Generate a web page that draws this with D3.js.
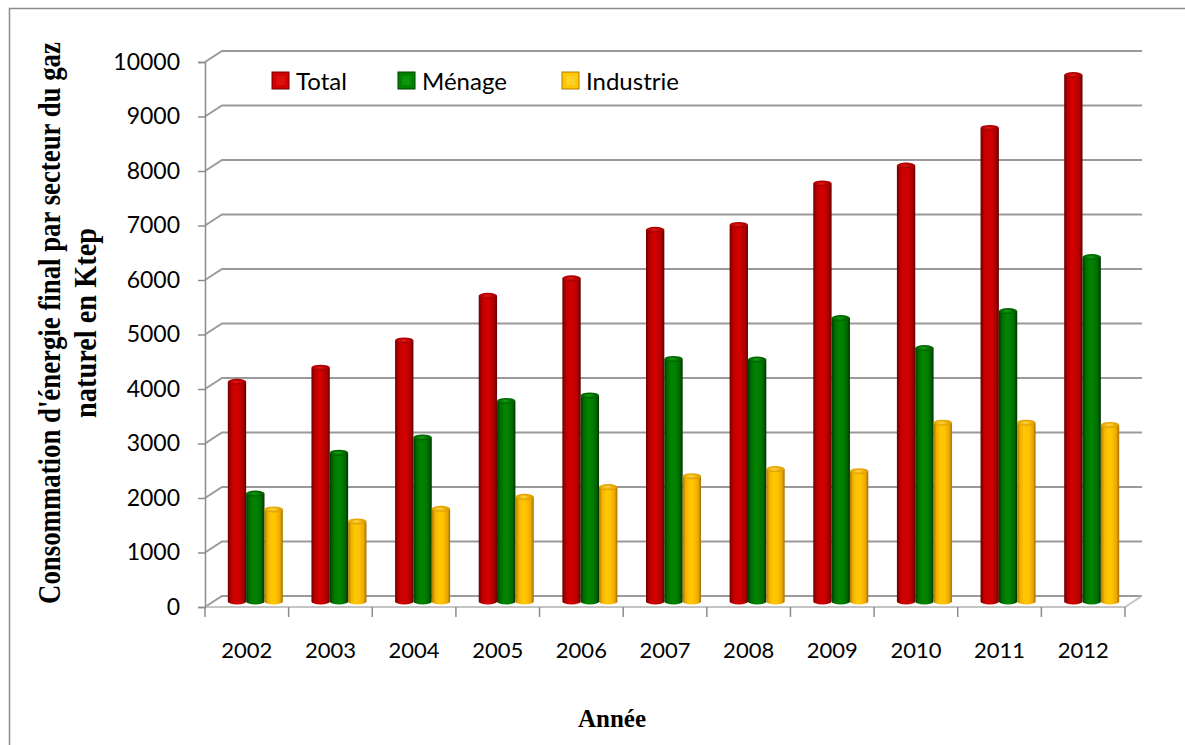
<!DOCTYPE html>
<html>
<head>
<meta charset="utf-8">
<script src="https://cdn.jsdelivr.net/npm/d3@7"></script>
<style>
  html, body { margin: 0; padding: 0; background: #fff; }
  svg { display: block; }
</style>
</head>
<body>
<div id="chart"></div>
<script>
// Consommation finale de gaz naturel par secteur (Ktep)
const years = ["2002", "2003", "2004", "2005", "2006", "2007", "2008", "2009", "2010", "2011", "2012"];
const seriesNames = ["Total", "Ménage", "Industrie"];
const total     = [4030, 4290, 4790, 5610, 5930, 6820, 6910, 7670, 8000, 8690, 9660];
const menage    = [1980, 2730, 3010, 3680, 3780, 4450, 4440, 5200, 4650, 5330, 6320];
const industrie = [1690, 1470, 1700, 1920, 2100, 2300, 2430, 2390, 3280, 3280, 3240];
const yTicks = [0, 1000, 2000, 3000, 4000, 5000, 6000, 7000, 8000, 9000, 10000];
const yTitle = ["Consommation d'énergie final par secteur du gaz", "naturel en Ktep"];
const xTitle = "Année";

const seriesValues = [total, menage, industrie];

const W = 1185, H = 745;
const svg = d3.select("#chart").append("svg").attr("width", W).attr("height", H);

// oblique depth of the 3D box: back wall offset and bar mid-depth offset
const depth = { dx: 17, dy: -11 };
const mid = { dx: depth.dx / 2, dy: depth.dy / 2 };

// front plane scales
const x = d3.scaleBand().domain(years).range([205, 1125]).paddingInner(0).paddingOuter(0);
const yBack = d3.scaleLinear().domain([0, 10000]).range([596, 51]);
const yFront = v => yBack(v) - depth.dy;
const inner = d3.scaleBand().domain(seriesNames).range([0, x.bandwidth()]).paddingInner(0).paddingOuter(0.78);

const palette = {
  "Total":     { stops: ["#6e0000", "#b80000", "#d20000", "#cc0000", "#a80000", "#5e0000"], cap: ["#b00000", "#e41a1a", "#a00000"] },
  "Ménage":    { stops: ["#003a00", "#006f00", "#008400", "#008000", "#006600", "#003000"], cap: ["#006a00", "#16a016", "#005a00"] },
  "Industrie": { stops: ["#b07a00", "#f2b400", "#ffc800", "#ffc000", "#eaa800", "#a46c00"], cap: ["#e8a800", "#ffd84a", "#d89800"] }
};

const defs = svg.append("defs");
seriesNames.forEach((s, i) => {
  const g = defs.append("linearGradient").attr("id", "body" + i)
    .attr("x1", "0%").attr("x2", "100%").attr("y1", "0%").attr("y2", "0%");
  const offs = [0, 0.18, 0.4, 0.62, 0.85, 1];
  palette[s].stops.forEach((c, k) => g.append("stop").attr("offset", offs[k]).attr("stop-color", c));
  const c = defs.append("radialGradient").attr("id", "cap" + i).attr("cx", "45%").attr("cy", "50%").attr("r", "60%");
  c.append("stop").attr("offset", 0).attr("stop-color", palette[s].cap[1]);
  c.append("stop").attr("offset", 0.6).attr("stop-color", palette[s].cap[0]);
  c.append("stop").attr("offset", 1).attr("stop-color", palette[s].cap[2]);
});
const blur = defs.append("filter").attr("id", "soft");
blur.append("feGaussianBlur").attr("stdDeviation", 0.5);

// outer frame
svg.append("rect").attr("x", 9.5).attr("y", 8.5).attr("width", 1300).attr("height", 900)
  .attr("fill", "none").attr("stroke", "#8c8c8c").attr("stroke-width", 1.5);

// gridlines on back wall, joined to the side wall edge
const grid = svg.append("g").attr("filter", "url(#soft)");
grid.selectAll("path.grid").data(yTicks).join("path")
  .attr("class", "grid")
  .attr("fill", "none")
  .attr("stroke", "#9a9a9a")
  .attr("stroke-width", 2)
  .attr("d", t => `M${x.range()[0]},${yFront(t)} L${x.range()[0] + depth.dx},${yBack(t)} L${x.range()[1] + depth.dx},${yBack(t)}`);

// floor front and right edges
grid.append("path").attr("fill", "none").attr("stroke", "#c4c4c4").attr("stroke-width", 2)
  .attr("d", `M${x.range()[0]},${yFront(0)} L${x.range()[1]},${yFront(0)} L${x.range()[1] + depth.dx},${yBack(0)}`);

// vertical value axis with ticks and labels
const yAxisG = svg.append("g").attr("transform", `translate(${x.range()[0]},0)`);
yAxisG.call(d3.axisLeft(d3.scaleLinear().domain([0, 10000]).range([yFront(0), yFront(10000)]))
  .tickValues(yTicks).tickSize(7).tickPadding(18).tickFormat(d3.format("d")));
yAxisG.select(".domain").attr("stroke", "#8c8c8c").attr("stroke-width", 1.5);
yAxisG.selectAll(".tick line").attr("stroke", "#8c8c8c").attr("stroke-width", 1.5);
yAxisG.selectAll(".tick text").attr("font-family", "Lato, 'Open Sans', sans-serif")
  .attr("font-size", 23).attr("fill", "#000");

// category axis along the front floor edge
const xAxisG = svg.append("g").attr("transform", `translate(0,${yFront(0)})`);
xAxisG.call(d3.axisBottom(x).tickSize(0).tickPadding(35));
xAxisG.select(".domain").remove();
xAxisG.selectAll(".tick text").attr("font-family", "Lato, 'Open Sans', sans-serif")
  .attr("font-size", 22).attr("fill", "#000");
const catTicks = years.map(y => x(y)).concat([x.range()[1]]);
xAxisG.selectAll("line.cat").data(catTicks).join("line").attr("class", "cat")
  .attr("x1", d => d).attr("x2", d => d).attr("y1", 0).attr("y2", 10)
  .attr("stroke", "#8c8c8c").attr("stroke-width", 1.5);

// cylinders
const ry = 3;
const bars = svg.append("g");
years.forEach((yr, j) => {
  seriesNames.forEach((s, i) => {
    const v = seriesValues[i][j];
    const left = x(yr) + inner(s) + mid.dx;
    const w = inner.bandwidth();
    const rx = w / 2;
    const top = yBack(v) + (-mid.dy);
    const base = yBack(0) + (-mid.dy);
    const g = bars.append("g");
    g.append("path")
      .attr("d", `M${left},${top} L${left},${base} A${rx},${ry} 0 0 0 ${left + w},${base} L${left + w},${top} Z`)
      .attr("fill", `url(#body${i})`);
    g.append("ellipse").attr("cx", left + rx).attr("cy", top).attr("rx", rx).attr("ry", ry)
      .attr("fill", `url(#cap${i})`);
  });
});

// legend
const legendPos = [272, 398, 562];
const lg = svg.append("g");
seriesNames.forEach((s, i) => {
  const g = lg.append("g").attr("transform", `translate(${legendPos[i]},72)`);
  g.append("rect").attr("width", 17).attr("height", 17).attr("fill", palette[s].stops[2])
    .attr("stroke", palette[s].stops[0]).attr("stroke-width", 1);
  g.append("rect").attr("x", 4).attr("y", 4).attr("width", 9).attr("height", 9)
    .attr("fill", palette[s].cap[1]).attr("opacity", 0.55);
  g.append("text").attr("x", 24).attr("y", 17.5)
    .attr("font-family", "Lato, 'Open Sans', sans-serif").attr("font-size", 24).attr("fill", "#000")
    .text(s);
});

// axis titles: narrow bold serif, squeezed horizontally to the wanted length
const titleFont = "'Liberation Serif', 'Times New Roman', serif";
function condensedTitle(parent, str, baseline, length) {
  const g = parent.append("g").attr("transform", `translate(0,${baseline})`);
  const t = g.append("text").attr("x", 0).attr("y", 0).attr("text-anchor", "middle")
    .attr("font-family", titleFont).attr("font-weight", "bold").attr("font-size", 31).text(str);
  const natural = t.node().getComputedTextLength();
  g.attr("transform", `translate(0,${baseline}) scale(${length / natural},1)`);
}
const yt = svg.append("g").attr("transform", "translate(0,323) rotate(-90)");
condensedTitle(yt, yTitle[0], 60, 562);
condensedTitle(yt, yTitle[1], 96, 190);

svg.append("text").attr("x", 612).attr("y", 727).attr("text-anchor", "middle")
  .attr("font-family", titleFont).attr("font-weight", "bold").attr("font-size", 25)
  .text(xTitle);
</script>
</body>
</html>
